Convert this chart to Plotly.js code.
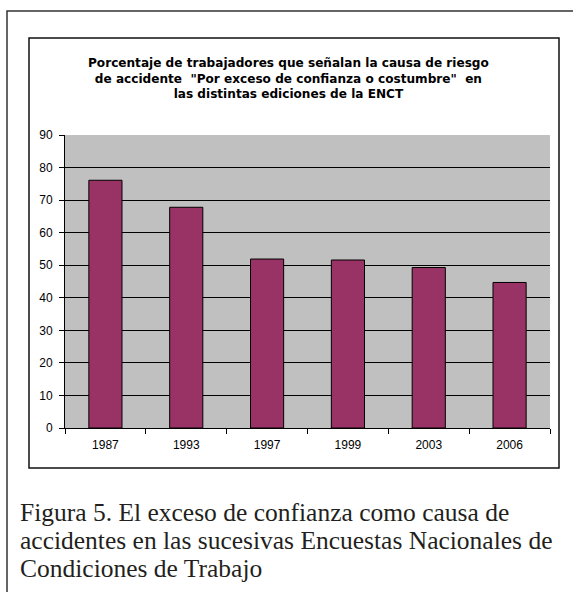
<!DOCTYPE html>
<html>
<head>
<meta charset="utf-8">
<script src="https://cdn.plot.ly/plotly-3.0.1.min.js"></script>
<style>html,body{margin:0;padding:0;background:#fff;}#chart{width:573px;height:592px;}</style>
</head>
<body>
<div id="chart"></div>
<script>
var years = ["1987", "1993", "1997", "1999", "2003", "2006"];
var percentages = [76.1, 67.8, 51.9, 51.6, 49.3, 44.7];
var yTicks = [0, 10, 20, 30, 40, 50, 60, 70, 80, 90];
var chartTitle = 'Porcentaje de trabajadores que señalan la causa de riesgo<br>de accidente  "Por exceso de confianza o costumbre"  en<br>las distintas ediciones de la ENCT';
var captionLines = ["Figura 5. El exceso de confianza como causa de",
  "accidentes en las sucesivas Encuestas Nacionales de",
  "Condiciones de Trabajo"];

var W = 573, H = 592;
var mL = 65, mR = 23, mT = 135, mB = 164;
var pw = W - mL - mR, ph = H - mT - mB;
function px(x){ return (x - mL) / pw; }
function py(y){ return (H - mB - y) / ph; }

var shapes = [
  {type:'rect', xref:'paper', yref:'paper', x0:px(7), x1:px(590), y0:py(11), y1:py(610),
   line:{color:'#333', width:1.5}, fillcolor:'rgba(0,0,0,0)', layer:'below'},
  {type:'rect', xref:'paper', yref:'paper', x0:px(29), x1:px(559), y0:py(38), y1:py(468),
   line:{color:'#111', width:1.5}, fillcolor:'rgba(0,0,0,0)', layer:'below'}
];

var annotations = [{
  xref:'paper', yref:'paper', x:px(288), y:py(78), xanchor:'center', yanchor:'middle',
  text:'<b>' + chartTitle + '</b>', showarrow:false, align:'center',
  font:{family:'DejaVu Sans, sans-serif', size:12.1, color:'#000'}
}];
captionLines.forEach(function(t, i){
  annotations.push({xref:'paper', yref:'paper', x:px(18), y:py(512 + i*28), xanchor:'left', yanchor:'middle',
    text:t, showarrow:false, align:'left',
    font:{family:'Liberation Serif, Times New Roman, serif', size:25.5, color:'#231f20'}});
});

var data = [{
  type:'bar', x:years, y:percentages,
  marker:{color:'#993366', line:{color:'#000', width:1}},
  hoverinfo:'none'
}];

var layout = {
  width:W, height:H,
  margin:{l:mL, r:mR, t:mT, b:mB, pad:0},
  paper_bgcolor:'#fff', plot_bgcolor:'#c0c0c0',
  bargap:0.59, showlegend:false,
  font:{family:'Liberation Sans, Arial, sans-serif', size:12, color:'#000'},
  xaxis:{type:'category', showline:true, linecolor:'#000', linewidth:1, ticks:'outside',
    tickson:'boundaries', ticklen:5, tickcolor:'#000', showgrid:false, mirror:false,
    tickfont:{size:12}, ticklabelstandoff:6},
  yaxis:{range:[0,90], tickvals:yTicks, showline:true, linecolor:'#000', linewidth:1,
    ticks:'outside', ticklen:5, tickcolor:'#000', showgrid:true, gridcolor:'#000', gridwidth:1,
    zeroline:false, tickfont:{size:12}, ticklabelstandoff:4},
  shapes:shapes, annotations:annotations
};
Plotly.newPlot('chart', data, layout, {staticPlot:true, displayModeBar:false});
</script>
</body>
</html>
